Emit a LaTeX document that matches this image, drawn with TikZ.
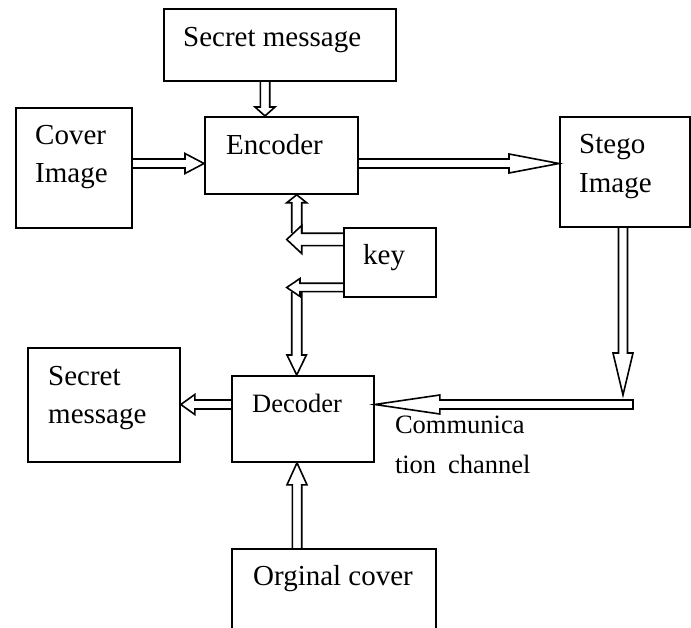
\documentclass[tikz,border=0pt]{standalone}
\usepackage{fontspec}
\setmainfont{Liberation Serif}
\usetikzlibrary{calc}
\tikzset{
  box/.style={draw,line width=1.8pt,rectangle,inner sep=0pt,anchor=north west},
  lbl/.style={anchor=base west,inner sep=0pt,font=\fontsize{29}{35}\selectfont},
  slbl/.style={anchor=base west,inner sep=0pt,font=\fontsize{26.5}{32}\selectfont},
  arrline/.style={draw,line width=1.6pt,line join=miter},
}
% #1 optional tail (e.g. -- cycle), #2 from, #3 to, #4 shaft half width, #5 head half width, #6 head length
\newcommand{\blockarrow}[6][]{%
  \coordinate (bah) at ($(#3)!#6!(#2)$);
  \draw[arrline] ($(#2)!#4!90:(#3)$) -- ($(bah)!#4!90:(#3)$) -- ($(bah)!#5!90:(#3)$)
    -- (#3) -- ($(bah)!#5!-90:(#3)$) -- ($(bah)!#4!-90:(#3)$) -- ($(#2)!#4!-90:(#3)$) #1;
}
\begin{document}
\begin{tikzpicture}[x=1pt,y=-1pt]
\clip (0,0) rectangle (691,628);
\fill[white] (0,0) rectangle (691,628);
% boxes
\node[box,minimum width=232pt,minimum height=72pt] (secTop) at (163,8) {};
\node[box,minimum width=116pt,minimum height=120pt] (cover) at (15,107) {};
\node[box,minimum width=153pt,minimum height=77pt] (enc) at (204,116) {};
\node[box,minimum width=130pt,minimum height=110pt] (stego) at (559,116) {};
\node[box,minimum width=92pt,minimum height=69pt] (key) at (343,227) {};
\node[box,minimum width=142pt,minimum height=86pt] (dec) at (231,375) {};
\node[box,minimum width=152pt,minimum height=114pt] (secBot) at (27,347) {};
\node[box,minimum width=204pt,minimum height=120pt] (orig) at (231,548) {};
% texts
\node[lbl] (tSecTop) at ($(secTop.north west)+(20,39)$) {Secret message};
\node[lbl] (tCover1) at ($(cover.north west)+(20,38)$) {Cover};
\node[lbl] (tCover2) at ($(cover.north west)+(20,76)$) {Image};
\node[lbl] (tEnc) at ($(enc.north west)+(22,39)$) {Encoder};
\node[lbl] (tStego1) at ($(stego.north west)+(20,38)$) {Stego};
\node[lbl] (tStego2) at ($(stego.north west)+(20,77)$) {Image};
\node[lbl] (tKey) at ($(key.north west)+(20,38)$) {key};
\node[slbl] (tDec) at ($(dec.north west)+(21,37)$) {Decoder};
\node[lbl] (tSec1) at ($(secBot.north west)+(21,38)$) {Secret};
\node[lbl] (tSec2) at ($(secBot.north west)+(21,76)$) {message};
\node[lbl] (tOrig) at ($(orig.north west)+(22,37)$) {Orginal cover};
\node[slbl] (tCom1) at ($(dec.north east)+(20,58)$) {Communica};
\node[slbl] (tCom2) at ($(dec.north east)+(20,98)$) {tion\hspace{0.45em}channel};
% connector points
\coordinate (a1s) at ($(secTop.south west)+(102,0)$);
\coordinate (a1e) at (a1s |- enc.north);
\coordinate (a2s) at ($(cover.north east)+(0,56.5)$);
\coordinate (a2e) at (a2s -| enc.west);
\coordinate (a3s) at (a2s -| enc.east);
\coordinate (a3e) at (a2s -| stego.west);
\coordinate (chan) at (633,404.5);
\coordinate (a4s) at ($(stego.south west)+(64,0)$);
\coordinate (a4e) at ($(a4s |- chan)+(0,-9.5)$);
\coordinate (a5e) at (chan -| dec.east);
\coordinate (a6s) at (chan -| dec.west);
\coordinate (a6e) at (chan -| secBot.east);
\coordinate (a7s) at ($(orig.north west)+(66,0)$);
\coordinate (a7e) at (a7s |- dec.south);
\coordinate (a8s) at ($(key.north west)+(0,12.5)$);
\coordinate (a8e) at ($(a8s)+(-56.3,0)$);
\coordinate (a9e) at ($(enc.south west)+(92.7,0)$);
\coordinate (a9s) at ($(a9e |- a8s)+(0,-6.5)$);
\coordinate (a10s) at ($(key.north west)+(0,60.5)$);
\coordinate (a10e) at ($(a10s)+(-56.3,0)$);
\coordinate (a11e) at (a9e |- dec.north);
\coordinate (a11s) at ($(a11e |- a10s)+(0,4.5)$);
% connectors
\blockarrow{a1s}{a1e}{4.7pt}{10pt}{9pt}
\blockarrow{a2s}{a2e}{4.5pt}{10pt}{19pt}
\blockarrow{a3s}{a3e}{4.5pt}{9.5pt}{50pt}
\blockarrow{a4s}{a4e}{4.5pt}{10pt}{42pt}
\blockarrow[-- cycle]{chan}{a5e}{4.5pt}{9.5pt}{65pt}
\blockarrow{a6s}{a6e}{4.5pt}{10pt}{14pt}
\blockarrow{a7s}{a7e}{4.7pt}{10pt}{22pt}
\blockarrow{a8s}{a8e}{6.2pt}{14pt}{15pt}
\blockarrow{a9s}{a9e}{5pt}{10pt}{8pt}
\blockarrow{a10s}{a10e}{4.2pt}{9pt}{13.3pt}
\blockarrow{a11s}{a11e}{5pt}{9.7pt}{20pt}
\end{tikzpicture}
\end{document}
